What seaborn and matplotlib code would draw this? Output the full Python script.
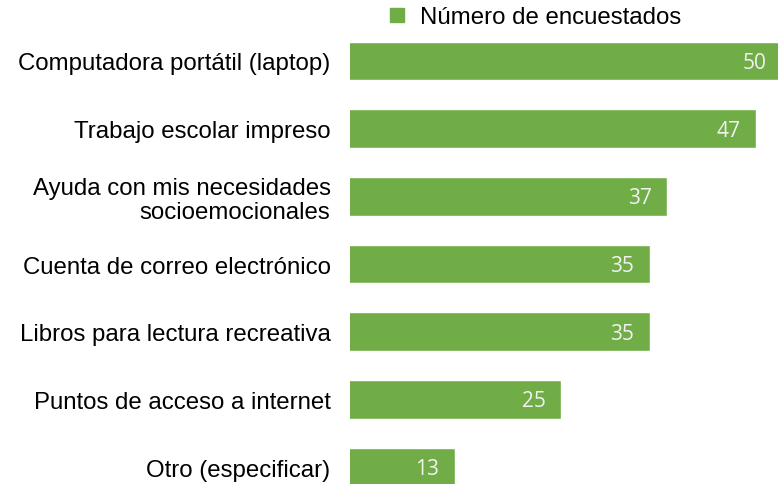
import matplotlib
matplotlib.use("Agg")
import matplotlib.pyplot as plt
import seaborn as sns
import pandas as pd
from matplotlib.lines import Line2D

categories = [
    "Computadora portátil (laptop)",
    "Trabajo escolar impreso",
    "Ayuda con mis necesidades\nsocioemocionales",
    "Cuenta de correo electrónico",
    "Libros para lectura recreativa",
    "Puntos de acceso a internet",
    "Otro (especificar)",
]
respondents = [50, 47, 37, 35, 35, 25, 13]
series_name = "Número de encuestados"

green = "#70AD47"

df = pd.DataFrame({"categoria": categories, "valor": respondents})

sns.set_theme(style="white")
plt.rcParams["font.family"] = ["Liberation Sans", "DejaVu Sans"]

fig = plt.figure(figsize=(7.78, 4.85), dpi=100)
ax = fig.add_axes([350 / 778, 0.0, 428 / 778, 1.0])

sns.barplot(data=df, y="categoria", x="valor", orient="h", color=green,
            saturation=1, width=0.57, ax=ax)

# px-per-unit scale: zero sits a little left of the axes edge
scale = 8.85
ax.set_xlim((350 - 340) / scale, (778 - 340) / scale)
ax.set_ylim(6.25, -0.915)

for i, v in enumerate(respondents):
    ax.annotate(str(v), xy=(v, i), xytext=(-20, -1), textcoords="offset points",
                ha="center", va="center", color="#F2F2F2", fontsize=15,
                family=["Open Sans", "DejaVu Sans"], annotation_clip=False)

ax.set_xlabel("")
ax.set_ylabel("")
ax.set_xticks([])
ax.tick_params(axis="y", length=0, pad=14, labelsize=17.3, colors="black")
for lbl in ax.get_yticklabels():
    lbl.set_horizontalalignment("right")
    lbl.set_linespacing(1.1)
for s in ax.spines.values():
    s.set_visible(False)

handle = Line2D([], [], marker="s", linestyle="none", markersize=10,
                markerfacecolor=green, markeredgecolor=green)
leg = fig.legend([handle], [series_name], loc="center left",
                 bbox_to_anchor=(373 / 778, 1 - 18 / 485), frameon=False,
                 fontsize=17.3, handletextpad=0.45, borderpad=0, handlelength=1.0)
for t in leg.get_texts():
    t.set_color("black")

fig.savefig("out.png", dpi=100)
